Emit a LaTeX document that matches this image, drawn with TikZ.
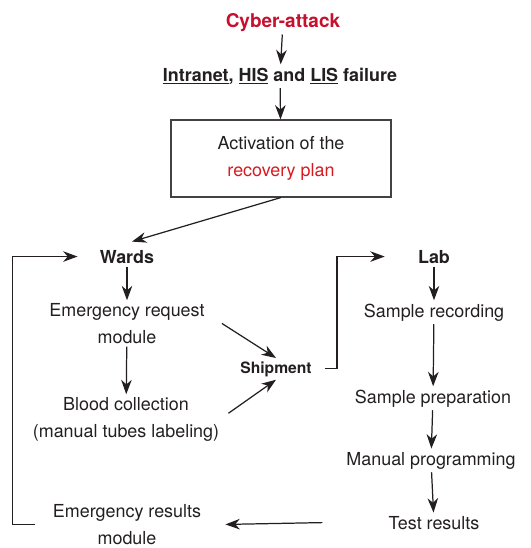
\documentclass[tikz,border=0pt]{standalone}
\usepackage{fontspec}
\setmainfont{TeX Gyre Heros}
\usetikzlibrary{arrows.meta, positioning, calc}

\definecolor{alertred}{HTML}{C8102E}
\definecolor{planred}{HTML}{D71920}
\definecolor{inkgray}{HTML}{231F20}

\begin{document}
\begin{tikzpicture}[
    x=0.02cm, y=-0.02cm,
    >={Stealth[length=8.2pt, width=6pt, inset=2.6pt]},
    font=\fontsize{10.2}{15}\selectfont,
    % Define styles for the different node types
    steptext/.style={text=inkgray, anchor=base, align=center, inner sep=1.7pt},
    headtext/.style={steptext, font=\fontsize{10.2}{15}\selectfont\bfseries},
    alerttext/.style={steptext, text=alertred, font=\fontsize{10.8}{15}\selectfont\bfseries},
    shiptext/.style={steptext, font=\fontsize{8.9}{12}\selectfont\bfseries},
    planbox/.style={rectangle, draw=inkgray!85, line width=0.6pt, text=inkgray, align=center, minimum width=4.4cm, minimum height=1.54cm, inner sep=0pt},
    link/.style={->, draw=inkgray, line width=0.7pt},
]
\useasboundingbox (0,0) rectangle (531,548);

% -------------------------
% Incident and recovery plan
% -------------------------
\node (cyber) [alerttext] at (283,27) {Cyber-attack};
\node (failure) [headtext] at (280,81) {\underline{Intranet}, \underline{HIS} and \underline{LIS} failure};
\node (plan) [planbox] at (281,158.5) {Activation of the\\{\color{planred}recovery plan}};

% -------------------------
% Wards column (base = last line)
% -------------------------
\node (wards) [headtext] at (127,263) {Wards};
\node (ereq) [steptext] at (127,343) {Emergency request\\module};
\node (blood) [steptext] at (126,437) {Blood collection\\(manual tubes labeling)};
\node (eres) [steptext] at (127,544) {Emergency results\\module};

\node (ship) [shiptext] at (276,373) {Shipment};

% -------------------------
% Lab column
% -------------------------
\node (lab) [headtext] at (434,263) {Lab};
\node (srec) [steptext] at (434,317) {Sample recording};
\node (sprep) [steptext] at (433,403) {Sample preparation};
\node (mprog) [steptext] at (431,465) {Manual programming};
\node (tres) [steptext] at (434,529) {Test results};

% -------------------------
% Arrow Connections
% -------------------------
\draw[link] (cyber) -- (failure);
\draw[link] (failure) -- (plan);
\draw[link] (plan.south) -- ($(wards.north)+(5,-5)$);

% Wards flow
\draw[link] (wards) -- (ereq);
\draw[link] (ereq) -- (blood);
\draw[link] ($(ereq.east)+(14,0)$) -- (ship.north);
\draw[link] ($(blood.east)+(6,-6)$) -- (ship.south);

% Shipment to lab
\draw[link] ($(ship.east)+(10,0)$) -- ++(12,0) |- ($(lab.west)+(-30,0)$);

% Lab flow
\draw[link] (lab) -- (srec);
\draw[link] (srec) -- (sprep);
\draw[link] (sprep) -- (mprog);
\draw[link] (mprog) -- (tres);

% Results back to the wards
\draw[link] ($(tres.west)+(-63,0)$) -- ($(eres.east)+(21,0)$);
\draw[link] ($(eres.west)+(-15,0)$) -- ++(-22,0) |- ($(wards.west)+(-19,0)$);

\end{tikzpicture}
\end{document}
